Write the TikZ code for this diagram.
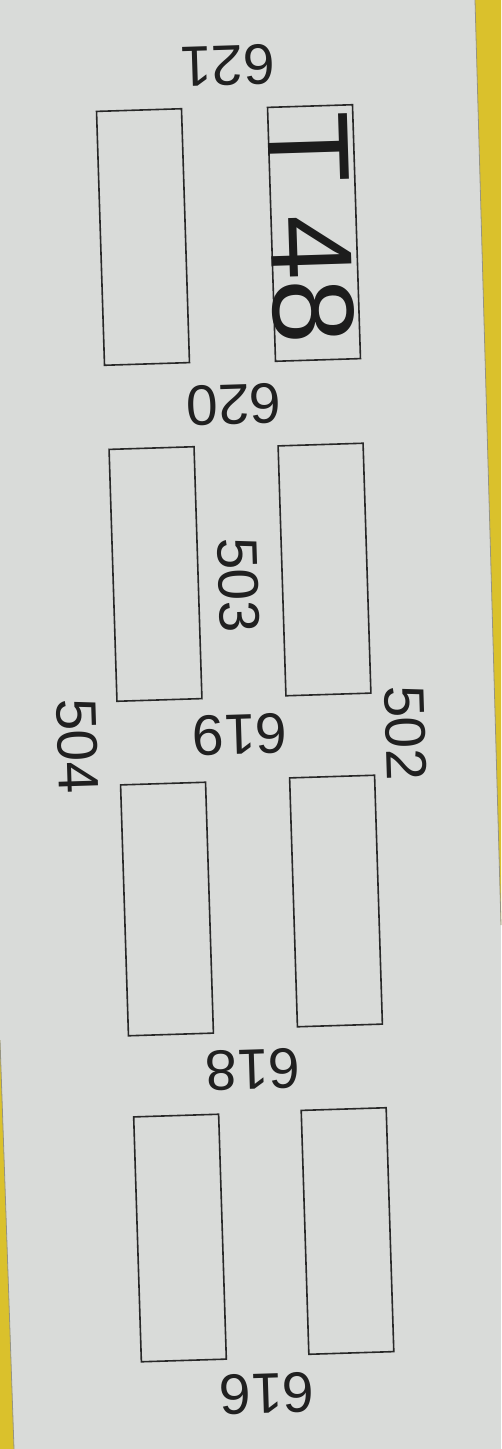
\documentclass[tikz,border=0pt]{standalone}
\usepackage{fontspec}
\setmainfont{Liberation Sans}
\definecolor{paper}{RGB}{217,219,217}
\definecolor{tape}{RGB}{218,193,44}
\definecolor{ink}{RGB}{40,40,40}
\definecolor{edge}{RGB}{150,148,130}
\begin{document}
\begin{tikzpicture}[x=1pt,y=-1pt,
  slot/.style={draw=ink, line width=1.6pt, inner sep=0pt, minimum width=85pt, rotate=1.8},
  lbl/.style={inner sep=0pt, text=ink!80!black, font=\fontsize{57}{60}\selectfont},
  flip/.style={lbl, rotate=181.8},
  side/.style={lbl, rotate=-88.2}]
\useasboundingbox (0,0) rectangle (501,1449);
\fill[paper] (0,0) rectangle (501,1449);
% yellow surface visible beside the tilted paper
\fill[tape] (475,0) -- (501,0) -- (501,925) -- cycle;
\fill[tape] (0,1040) -- (14,1449) -- (0,1449) -- cycle;
\draw[edge, line width=0.8pt] (475,0) -- (501,925);
\draw[edge, line width=0.8pt] (0,1040) -- (14,1449);
% slots
\node[slot, minimum height=254pt] (s1) at (143,237) {};
\node[slot, minimum height=254pt] (s2) at (314,233) {};
\node[slot, minimum height=252pt] (s3) at (155.5,574) {};
\node[slot, minimum height=250pt] (s4) at (324.5,569.5) {};
\node[slot, minimum height=251pt] (s5) at (167,909) {};
\node[slot, minimum height=249pt] (s6) at (336,901) {};
\node[slot, minimum height=245pt] (s7) at (180,1238) {};
\node[slot, minimum height=244pt] (s8) at (347.5,1231) {};
% big label
\node[lbl, rotate=-88.2, font=\fontsize{116}{120}\selectfont, text=ink!70!black] (t48) at (311,228) {T 48};
% numbers
\node[flip] (n621) at (227.5,65.5) {621};
\node[flip] (n620) at (234,405) {620};
\node[side] (n503) at (239,585) {503};
\node[side] (n502) at (406,733) {502};
\node[side] (n504) at (78,746) {504};
\node[flip] (n619) at (240,735) {619};
\node[flip] (n618) at (253,1070) {618};
\node[flip] (n616) at (267,1394) {616};
\end{tikzpicture}
\end{document}
